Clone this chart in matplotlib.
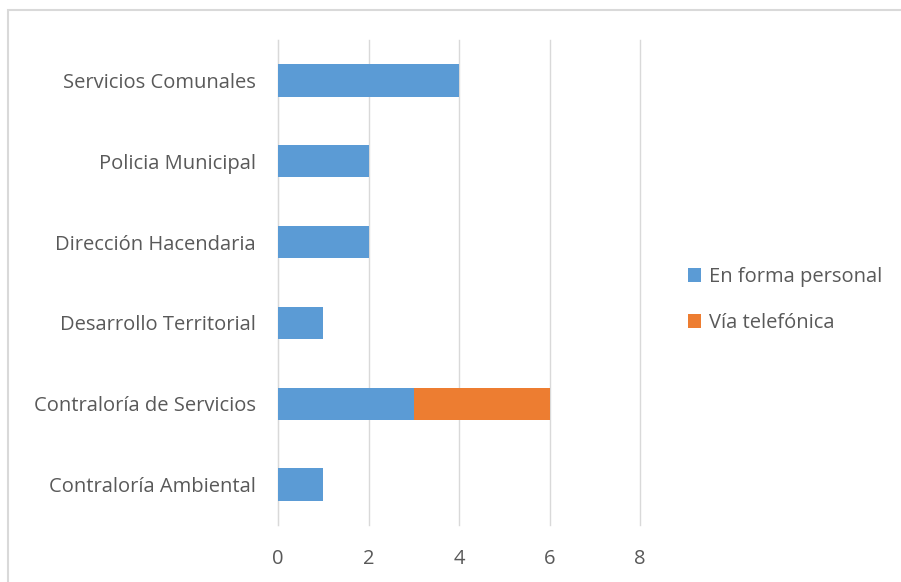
import matplotlib.pyplot as plt
from matplotlib.patches import Rectangle

categories = ['Contraloría Ambiental', 'Contraloría de Servicios', 'Desarrollo Territorial',
              'Dirección Hacendaria', 'Policia Municipal', 'Servicios Comunales']
personal = [1, 3, 1, 2, 2, 4]
telefono = [0, 3, 0, 0, 0, 0]
series_names = ['En forma personal', 'Vía telefónica']

blue = '#5b9bd5'
orange = '#ed7d31'
gray_txt = '#595959'
grid_col = '#d9d9d9'

plt.rcParams['font.family'] = ['Open Sans', 'DejaVu Sans']

fig = plt.figure(figsize=(9.01, 5.82), dpi=100)
fig.patches.append(Rectangle((8 / 901, -0.01), 1.0, 1 - 10 / 582 + 0.01, transform=fig.transFigure,
                             fill=False, edgecolor='#d9d9d9', linewidth=1.5))

ax = fig.add_axes([278 / 901, 1 - 525 / 582, (640 - 278) / 901, (525 - 40) / 582])
y = range(len(categories))
ax.barh(y, personal, height=0.4, color=blue, label=series_names[0], zorder=3)
ax.barh(y, telefono, left=personal, height=0.4, color=orange, label=series_names[1], zorder=3)

ax.set_xlim(0, 8)
ax.set_ylim(-0.5, len(categories) - 0.5)
ax.set_xticks([0, 2, 4, 6, 8])
ax.set_yticks(list(y))
ax.set_yticklabels(categories, fontsize=15)
ax.tick_params(length=0, labelsize=14.5, colors=gray_txt)
ax.tick_params(axis='x', pad=17)
ax.tick_params(axis='y', pad=16)
ax.xaxis.grid(True, color=grid_col, linewidth=1, zorder=0)
for gl in ax.get_xgridlines():
    gl.set_clip_on(False)
for s in ['top', 'right', 'bottom']:
    ax.spines[s].set_visible(False)
ax.spines['left'].set_color(grid_col)

leg = ax.legend(loc='center left', bbox_to_anchor=(670 / 901, 1 - 300 / 582), bbox_transform=fig.transFigure,
                frameon=False, fontsize=14.5, handlelength=0.65, handleheight=0.65,
                handletextpad=0.4, labelspacing=1.3)
for t in leg.get_texts():
    t.set_color(gray_txt)

fig.savefig('out.png', dpi=100)
